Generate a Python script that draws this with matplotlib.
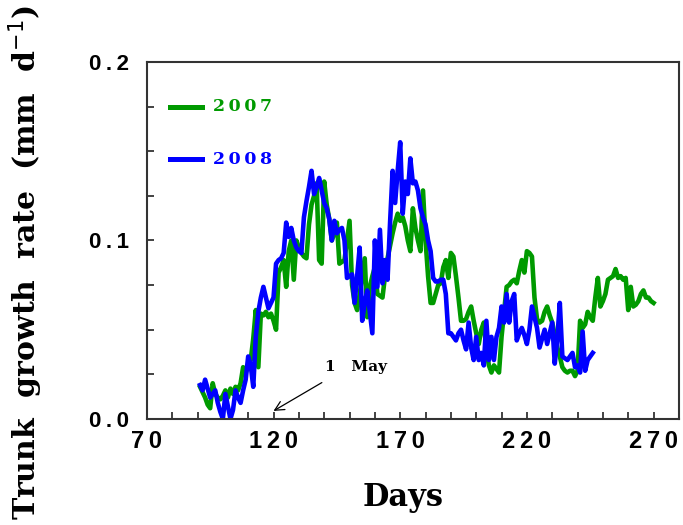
import numpy as np
import matplotlib
matplotlib.use('Agg')
import matplotlib.pyplot as plt
import matplotlib.ticker as tick

# daily trunk growth rate (mm/d), day of year
days_2007 = np.arange(91, 271)
rate_2007 = [
    0.018, 0.015, 0.012, 0.008, 0.006, 0.020, 0.014, 0.012, 0.011, 0.013,
    0.016, 0.012, 0.017, 0.014, 0.018, 0.016, 0.020, 0.029, 0.026, 0.030,
    0.033, 0.045, 0.061, 0.029, 0.059, 0.058, 0.060, 0.057, 0.059, 0.055,
    0.050, 0.082, 0.085, 0.089, 0.074, 0.094, 0.100, 0.078, 0.100, 0.096,
    0.093, 0.091, 0.090, 0.109, 0.120, 0.125, 0.132, 0.089, 0.087, 0.133,
    0.120, 0.112, 0.100, 0.104, 0.110, 0.087, 0.088, 0.089, 0.100, 0.111,
    0.075, 0.065, 0.061, 0.070, 0.080, 0.090, 0.057, 0.074, 0.080, 0.085,
    0.070, 0.069, 0.068, 0.080, 0.090, 0.097, 0.104, 0.110, 0.115, 0.111,
    0.113, 0.108, 0.100, 0.094, 0.118, 0.107, 0.100, 0.094, 0.128, 0.100,
    0.080, 0.065, 0.065, 0.070, 0.075, 0.076, 0.085, 0.089, 0.079, 0.093,
    0.091, 0.080, 0.068, 0.055, 0.055, 0.056, 0.060, 0.063, 0.055, 0.048,
    0.042, 0.050, 0.054, 0.039, 0.030, 0.026, 0.030, 0.028, 0.026, 0.046,
    0.060, 0.074, 0.075, 0.077, 0.078, 0.076, 0.083, 0.089, 0.082, 0.094,
    0.093, 0.091, 0.068, 0.056, 0.054, 0.055, 0.060, 0.063, 0.058, 0.054,
    0.047, 0.040, 0.035, 0.029, 0.027, 0.026, 0.027, 0.027, 0.024, 0.027,
    0.055, 0.051, 0.053, 0.060, 0.057, 0.055, 0.068, 0.079, 0.063, 0.066,
    0.070, 0.078, 0.079, 0.080, 0.084, 0.079, 0.080, 0.078, 0.079, 0.061,
    0.074, 0.063, 0.064, 0.066, 0.070, 0.072, 0.068, 0.068, 0.066, 0.065,
]

days_2008 = np.arange(91, 247)
rate_2008 = [
    0.019, 0.016, 0.022, 0.017, 0.012, 0.014, 0.016, 0.009, 0.004, 0.000,
    0.014, 0.007, 0.000, 0.005, 0.016, 0.012, 0.009, 0.016, 0.022, 0.035,
    0.030, 0.018, 0.046, 0.060, 0.068, 0.074, 0.068, 0.062, 0.065, 0.068,
    0.087, 0.089, 0.090, 0.093, 0.110, 0.102, 0.107, 0.100, 0.096, 0.094,
    0.093, 0.113, 0.122, 0.130, 0.139, 0.126, 0.130, 0.135, 0.128, 0.121,
    0.118, 0.112, 0.100, 0.111, 0.104, 0.106, 0.107, 0.100, 0.079, 0.080,
    0.081, 0.065, 0.080, 0.096, 0.055, 0.065, 0.072, 0.060, 0.048, 0.100,
    0.074, 0.106, 0.076, 0.089, 0.078, 0.110, 0.139, 0.121, 0.139, 0.155,
    0.115, 0.133, 0.126, 0.146, 0.132, 0.133, 0.128, 0.118, 0.113, 0.109,
    0.100, 0.094, 0.079, 0.077, 0.077, 0.078, 0.078, 0.070, 0.048, 0.048,
    0.046, 0.044, 0.048, 0.050, 0.044, 0.039, 0.054, 0.040, 0.033, 0.046,
    0.033, 0.037, 0.030, 0.055, 0.033, 0.046, 0.033, 0.046, 0.051, 0.063,
    0.054, 0.070, 0.054, 0.066, 0.070, 0.044, 0.048, 0.051, 0.047, 0.042,
    0.050, 0.063, 0.057, 0.051, 0.040, 0.045, 0.050, 0.042, 0.048, 0.054,
    0.031, 0.045, 0.065, 0.035, 0.034, 0.033, 0.035, 0.037, 0.029, 0.030,
    0.026, 0.049, 0.027, 0.033, 0.035, 0.037,
]

green = '#009a00'
blue = '#0000ff'
serif = 'DejaVu Serif'
sans = 'Liberation Sans'

fig = plt.figure(figsize=(6.83, 5.25), dpi=100)
ax = fig.add_axes([0.215, 0.202, 0.779, 0.680])

ax.plot(days_2007, rate_2007, color=green, lw=3.3, solid_joinstyle='round')
ax.plot(days_2008, rate_2008, color=blue, lw=3.3, solid_joinstyle='round')

ax.set_xlim(70, 280)
ax.set_ylim(0, 0.2)
ax.xaxis.set_major_locator(tick.MultipleLocator(50, offset=20))
ax.xaxis.set_minor_locator(tick.MultipleLocator(10))
ax.yaxis.set_major_locator(tick.MultipleLocator(0.1))
ax.yaxis.set_minor_locator(tick.MultipleLocator(0.025))

# spaced-out tick digits
spread = lambda s: '\u2009'.join(s)
ax.xaxis.set_major_formatter(tick.FuncFormatter(lambda v, p: spread('%d' % v)))
ax.yaxis.set_major_formatter(tick.FuncFormatter(lambda v, p: spread('%.1f' % v)))

ax.tick_params(which='both', direction='in', length=5, width=1.2, color='#222222',
               top=False, right=False)
ax.tick_params(axis='x', which='major', pad=8, labelsize=17)
ax.tick_params(axis='y', which='major', pad=13, labelsize=16)
for lbl in ax.get_xticklabels() + ax.get_yticklabels():
    lbl.set_fontfamily(sans)
    lbl.set_fontweight('bold')
for s in ax.spines.values():
    s.set_linewidth(1.5)
    s.set_color('#333333')

# legend drawn by hand
for yy, col, txt in [(0.874, green, '2007'), (0.727, blue, '2008')]:
    ax.plot([0.043, 0.103], [yy, yy], color=col, lw=3.6, transform=ax.transAxes)
    ax.text(0.124, yy, spread(txt), color=col, fontsize=12.5, fontweight='bold',
            family=serif, va='center', ha='left', transform=ax.transAxes)

ax.annotate('1   May', xy=(120, 0.0045), xytext=(140.3, 0.029),
            fontsize=11, fontweight='bold', family=serif, va='center', ha='left',
            arrowprops=dict(arrowstyle='->,head_length=0.6,head_width=0.3',
                            color='black', lw=0.9, shrinkA=0, shrinkB=0,
                            relpos=(-0.05, -0.6)))

fig.text(0.037, 0.50, 'Trunk  growth  rate  (mm  d$^{-1}$)', rotation=90,
         fontsize=21.5, fontweight='bold', family=serif, ha='center', va='center')
fig.text(0.59, 0.053, 'Days', fontsize=22, fontweight='bold', family=serif,
         ha='center', va='center')

fig.savefig('out.png', dpi=100)
